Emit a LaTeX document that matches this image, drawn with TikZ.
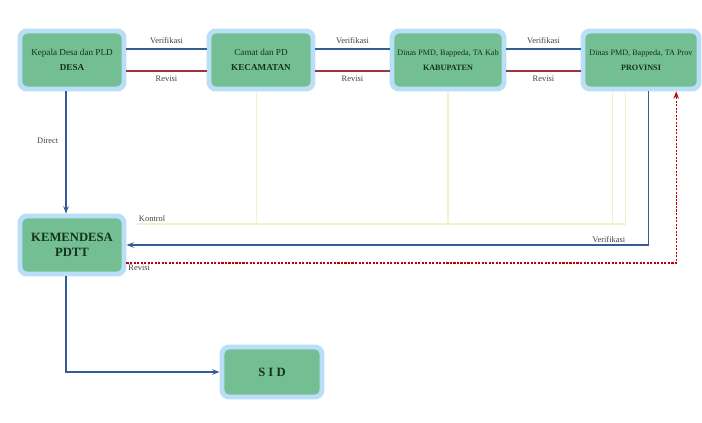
\documentclass[tikz,border=0pt]{standalone}
\usepackage{fontspec}
\setmainfont{Liberation Serif}
\usepackage{tikz}
\usetikzlibrary{arrows.meta,positioning,calc}
\definecolor{boxgreen}{RGB}{116,190,148}
\definecolor{glowblue}{RGB}{185,222,248}
\definecolor{verblue}{RGB}{52,92,150}
\definecolor{revred}{RGB}{160,50,70}
\definecolor{kontyel}{RGB}{245,240,200}
\definecolor{txtdark}{RGB}{20,50,30}
\tikzset{
  unit/.style={rectangle,rounded corners=5pt,fill=boxgreen,draw=glowblue,
               line width=3.5pt,minimum width=2.6cm,minimum height=1.45cm,
               inner xsep=1.5pt,align=center,text=txtdark,
               font=\fontsize{6.5}{11}\selectfont},
  verif/.style={verblue,line width=1.2pt},
  revis/.style={revred,line width=1.2pt},
  flowv/.style={-{Stealth[length=1.8mm]},verblue,line width=1pt},
  flowr/.style={-{Stealth[length=1.8mm]},red!75!black,thick,dash pattern=on 1.5pt off 1pt},
  kontrol/.style={kontyel,line width=0.8pt},
  lbl/.style={font=\fontsize{6}{7}\selectfont,text=black!75,inner sep=1pt},
}

\begin{document}
\begin{tikzpicture}[x=0.025cm,y=-0.025cm]
  \useasboundingbox (0,0) rectangle (702,422);
  % top row
  \node[unit] (desa) at (72,60) {Kepala Desa dan PLD\\\textbf{DESA}};
  \node[unit] (kec)  at (261,60) {Camat dan PD\\\textbf{KECAMATAN}};
  \node[unit,minimum width=2.8cm,font=\fontsize{5.8}{11}\selectfont] (kab) at (448,60)
     {Dinas PMD, Bappeda, TA Kab\\\textbf{KABUPATEN}};
  \node[unit,minimum width=2.9cm,font=\fontsize{5.8}{11}\selectfont] (prov) at (641,60)
     {Dinas PMD, Bappeda, TA Prov\\\textbf{PROVINSI}};
  % ministry and SID
  \node[unit,font=\small\bfseries] (kem) at (72,245) {KEMENDESA\\PDTT};
  \node[unit,minimum width=2.5cm,minimum height=1.25cm,font=\small\bfseries] (sid) at (272,372) {S I D};
  % kontrol lines
  \coordinate (kk) at (137,224);
  \draw[kontrol] ([xshift=-0.12cm]kec.south) -- ([xshift=-0.12cm]kec.south |- kk);
  \draw[kontrol] (kab.south) -- (kab.south |- kk);
  \draw[kontrol] ([xshift=-0.72cm]prov.south) -- ([xshift=-0.72cm]prov.south |- kk);
  \draw[kontrol] ([xshift=-0.38cm]prov.south) -- ([xshift=-0.38cm]prov.south |- kk)
     -- (kk) node[lbl,above right,pos=1] {Kontrol};
  % verifikasi / revisi pairs
  \foreach \a/\b in {desa/kec,kec/kab,kab/prov}{
    \draw[verif] ([yshift=0.275cm]\a.east) -- node[lbl,above=2pt]{Verifikasi} ([yshift=0.275cm]\b.west);
    \draw[revis] ([yshift=-0.275cm]\a.east) -- node[lbl,below=2pt]{Revisi} ([yshift=-0.275cm]\b.west);
  }
  % direct
  \draw[flowv] ([xshift=-0.15cm]desa.south) -- node[lbl,left=4pt,pos=0.4]{Direct} ([xshift=-0.15cm]kem.north);
  % provinsi back to kemendesa
  \draw[flowv] ([xshift=0.18cm]prov.south) |- node[lbl,above left,pos=0.52]{Verifikasi} (kem.east);
  \draw[flowr] ([yshift=-0.45cm]kem.east) node[lbl,below right,text=black!75]{Revisi}
     -| ([xshift=0.88cm]prov.south);
  % to SID
  \draw[flowv] ([xshift=-0.15cm]kem.south) |- (sid.west);
\end{tikzpicture}
\end{document}
